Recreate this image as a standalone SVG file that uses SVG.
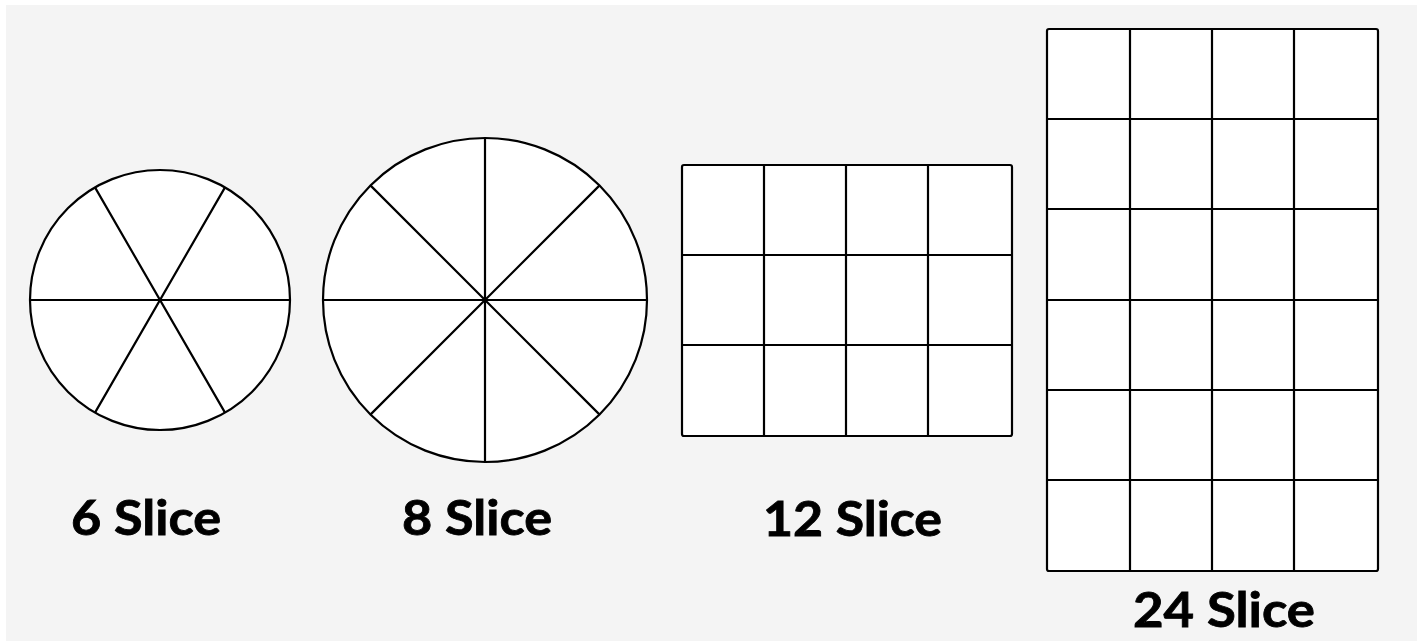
<svg xmlns="http://www.w3.org/2000/svg" width="1417" height="641" viewBox="0 0 1417 641">
<style>
.s{fill:#fff;stroke:#000;stroke-width:2.2}
.l{stroke:#000;stroke-width:2.2;fill:none}
.t{font-family:Lato,"Noto Sans",sans-serif;font-weight:bold;font-size:48px;fill:#000;stroke:#000;stroke-width:0.8}
</style>
<rect x="0" y="0" width="1417" height="641" fill="#fff"/>
<rect x="6" y="5" width="1411" height="636" fill="#f4f4f4"/>
<g id="pie6">
<circle class="s" cx="160" cy="300" r="130"/>
<path class="l" d="M30 300H290M95 187.4L225 412.6M225 187.4L95 412.6"/>
<text class="t" x="71" y="535" textLength="150" lengthAdjust="spacingAndGlyphs">6 Slice</text>
</g>
<g id="pie8">
<circle class="s" cx="485" cy="300" r="162"/>
<path class="l" d="M323 300H647M485 138V462M370.4 185.4L599.6 414.6M599.6 185.4L370.4 414.6"/>
<text class="t" x="402" y="535" textLength="150" lengthAdjust="spacingAndGlyphs">8 Slice</text>
</g>
<g id="sheet12">
<rect class="s" x="682" y="165" width="330" height="271" rx="2"/>
<path class="l" d="M764 165V436M846 165V436M928 165V436M682 255H1012M682 345H1012"/>
<text class="t" x="763" y="536" textLength="179" lengthAdjust="spacingAndGlyphs">12 Slice</text>
</g>
<g id="sheet24">
<rect class="s" x="1047" y="29" width="331" height="542" rx="2"/>
<path class="l" d="M1130 29V571M1212 29V571M1294 29V571M1047 119H1378M1047 209H1378M1047 300H1378M1047 390H1378M1047 480H1378"/>
<text class="t" x="1133" y="627" textLength="182" lengthAdjust="spacingAndGlyphs">24 Slice</text>
</g>
<g id="connectors"/>
</svg>
